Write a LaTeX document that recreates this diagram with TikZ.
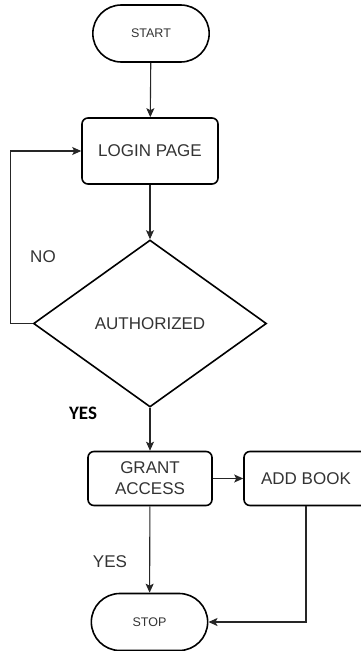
\documentclass[tikz,border=0pt]{standalone}
\usepackage{fontspec}
\setmainfont{Liberation Sans}
\newfontfamily\labelfont{Carlito}
\usepackage{tikz}
\usetikzlibrary{
  arrows.meta,arrows,positioning,
  shapes.geometric,shapes.misc
}
\tikzset{
  terminal/.style={rounded rectangle,draw,line width=1.6pt,minimum width=123pt,
    minimum height=57pt,font=\fontsize{12.5}{14}\selectfont,text=black!80},
  process/.style={rectangle,rounded corners=6pt,draw,line width=1.6pt,
    align=center,font=\fontsize{17}{21}\selectfont,text=black!80},
  decision/.style={diamond,draw,line width=1.6pt,aspect=1.4,minimum width=233pt,
    minimum height=167pt,font=\fontsize{17}{20}\selectfont,text=black!80},
  every node/.style={font=\fontsize{17}{20}\selectfont}
}
\tikzstyle{arrow} = [line width=1.1pt,black!85,-{Stealth[length=9pt,width=8pt,inset=2pt]}]

\begin{document}
\begin{tikzpicture}[x=1pt,y=-1pt]
  \clip (0,0) rectangle (361,651);
  \node[terminal] (start) at (151,33.5) {START};
  \node[process,minimum width=136pt,minimum height=66pt] (login) at (150,151) {LOGIN PAGE};
  \node[decision] (auth) at (150,323.5) {AUTHORIZED};
  \node[process,minimum width=124pt,minimum height=54pt] (grant) at (150,478.5) {GRANT\\ACCESS};
  \node[process,minimum width=124pt,minimum height=54pt] (addbook) at (306,478.5) {ADD BOOK};
  \node[terminal] (stop) at (149.5,622) {STOP};
  % connectors
  \draw[arrow] (start) -- (login);
  \draw[arrow] (login) -- (auth);
  \draw[arrow] (auth.west) -- ++(-22,0) |- (login.west);
  \draw[arrow] (auth.south) -- (grant.north);
  \draw[arrow] (grant) -- (addbook);
  \draw[arrow] (grant) -- (stop);
  \draw[arrow] (addbook.south) |- (stop.east);
  % labels
  \node[text=black!80] (no) at (43,257) {NO};
  \node[font=\labelfont\bfseries\fontsize{19}{20}\selectfont] (yesa) at (83,413) {YES};
  \node[text=black!80] (yesb) at (110,562) {YES};
\end{tikzpicture}
\end{document}
